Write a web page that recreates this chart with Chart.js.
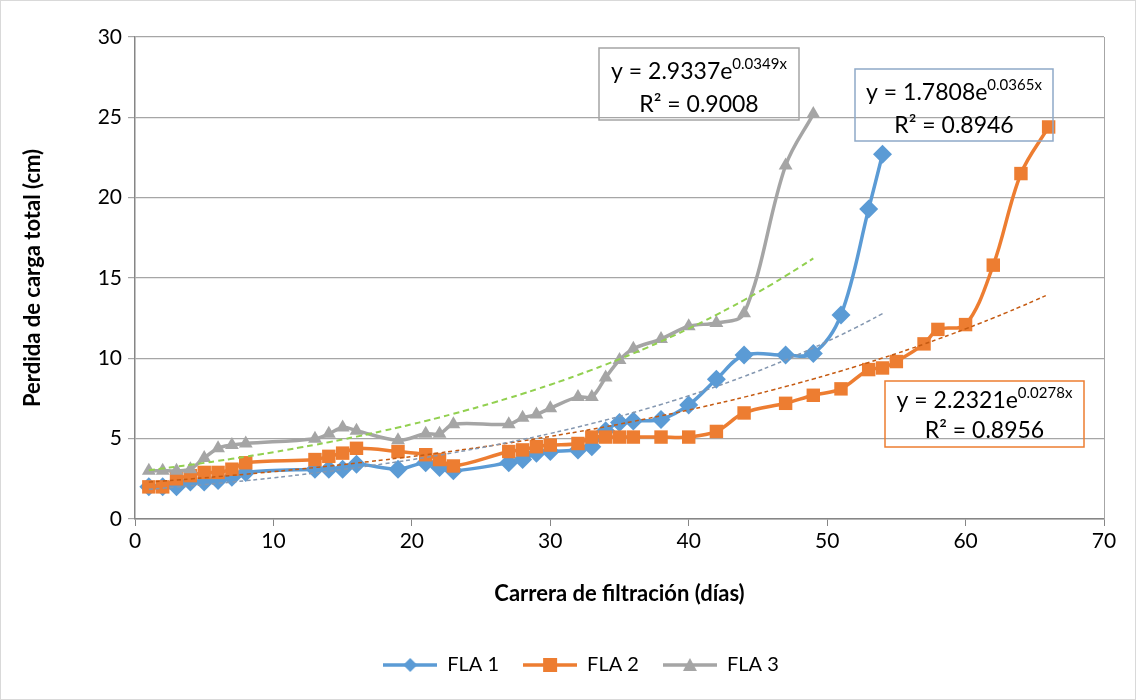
<!DOCTYPE html>
<html>
<head>
<meta charset="utf-8">
<script src="https://cdn.jsdelivr.net/npm/chart.js@4.4.1/dist/chart.umd.min.js"></script>
<style>
  html, body { margin: 0; padding: 0; background: #fff; }
  canvas { display: block; }
</style>
</head>
<body>
<canvas id="chart" width="1136" height="700"></canvas>
<script>
// measured values (days / head loss in cm)
const days1 = [1, 2, 3, 4, 5, 6, 7, 8, 13, 14, 15, 16, 19, 21, 22, 23, 27, 28, 29, 30, 32, 33, 34, 35, 36, 38, 40, 42, 44, 47, 49, 51, 53, 54];
const fla1  = [2.0, 2.0, 2.0, 2.3, 2.3, 2.4, 2.6, 2.9, 3.1, 3.1, 3.1, 3.4, 3.1, 3.5, 3.2, 3.0, 3.5, 3.7, 4.1, 4.2, 4.3, 4.5, 5.5, 6.0, 6.1, 6.2, 7.1, 8.7, 10.2, 10.2, 10.3, 12.7, 19.3, 22.7];

const days2 = [1, 2, 3, 4, 5, 6, 7, 8, 13, 14, 15, 16, 19, 21, 22, 23, 27, 28, 29, 30, 32, 33, 34, 35, 36, 38, 40, 42, 44, 47, 49, 51, 53, 54, 55, 57, 58, 60, 62, 64, 66];
const fla2  = [2.0, 2.0, 2.5, 2.7, 2.9, 2.9, 3.1, 3.5, 3.7, 3.9, 4.1, 4.4, 4.2, 4.0, 3.7, 3.3, 4.2, 4.3, 4.5, 4.6, 4.7, 5.1, 5.1, 5.1, 5.1, 5.1, 5.1, 5.45, 6.6, 7.2, 7.7, 8.1, 9.3, 9.4, 9.8, 10.9, 11.8, 12.1, 15.8, 21.5, 24.4];

const days3 = [1, 2, 3, 4, 5, 6, 7, 8, 13, 14, 15, 16, 19, 21, 22, 23, 27, 28, 29, 30, 32, 33, 34, 35, 36, 38, 40, 42, 44, 47, 49];
const fla3  = [3.0, 3.0, 3.0, 3.1, 3.8, 4.4, 4.6, 4.7, 5.0, 5.3, 5.7, 5.5, 4.9, 5.3, 5.3, 5.9, 5.9, 6.3, 6.5, 6.9, 7.6, 7.6, 8.8, 9.9, 10.6, 11.2, 12.0, 12.2, 12.8, 22.0, 25.2];

const seriesNames = ['FLA 1', 'FLA 2', 'FLA 3'];

// exponential trend lines y = a * e^(b x), as printed on the chart
const trendA   = [1.7808, 2.2321, 2.9337];
const trendB   = [0.0365, 0.0278, 0.0349];
const trendEnd = [54, 66, 49];
const trendEq  = [['y = 1.7808e', '0.0365x', 'R² = 0.8946'],
                  ['y = 2.2321e', '0.0278x', 'R² = 0.8956'],
                  ['y = 2.9337e', '0.0349x', 'R² = 0.9008']];

const xTicks = [0, 10, 20, 30, 40, 50, 60, 70];
const yTicks = [0, 5, 10, 15, 20, 25, 30];

const colors = ['#5b9bd5', '#ed7d31', '#a5a5a5'];
const trendColors = ['#8497b0', '#c55a11', '#92d050'];
const boxColors = ['#8ea9c8', '#ed7d31', '#a5a5a5'];
const markers = ['rectRot', 'rect', 'triangle'];
const FONT = 'Lato, "Noto Sans", sans-serif';

const pts = (xs, ys) => xs.map((x, i) => ({ x: x, y: ys[i] }));
function trendPts(i) {
  const out = [];
  for (let x = 1; x <= trendEnd[i]; x++) out.push({ x: x, y: trendA[i] * Math.exp(trendB[i] * x) });
  return out;
}

const dataSets = [[days1, fla1], [days2, fla2], [days3, fla3]];

const datasets = [];
dataSets.forEach((d, i) => {
  datasets.push({
    label: seriesNames[i],
    data: pts(d[0], d[1]),
    borderColor: colors[i],
    backgroundColor: colors[i],
    borderWidth: 3.5,
    pointStyle: markers[i],
    pointRadius: i === 2 ? 8 : 9.5,
    pointBorderWidth: 0,
    tension: 0.35,
    order: 3 - i
  });
});
trendColors.forEach((c, i) => {
  datasets.push({
    label: 'trend' + (i + 1),
    data: trendPts(i),
    borderColor: c,
    borderWidth: i === 2 ? 2 : 1.5,
    borderDash: i === 2 ? [6, 4] : [4, 3],
    pointRadius: 0,
    tension: 0.4,
    order: 0
  });
});

function legendIcon(i) {
  const cv = document.createElement('canvas');
  cv.width = 54; cv.height = 18;
  const g = cv.getContext('2d');
  g.strokeStyle = colors[i]; g.lineWidth = 3.5;
  g.beginPath(); g.moveTo(0, 9); g.lineTo(54, 9); g.stroke();
  g.fillStyle = colors[i];
  g.beginPath();
  if (i === 0) { g.moveTo(27, 2); g.lineTo(34, 9); g.lineTo(27, 16); g.lineTo(20, 9); }
  else if (i === 1) { g.rect(20, 2, 14, 14); }
  else { g.moveTo(27, 2); g.lineTo(34, 15); g.lineTo(20, 15); }
  g.closePath(); g.fill();
  return cv;
}
const icons = [0, 1, 2].map(legendIcon);

// trend equation boxes (left, top, width, height, baseline1, baseline2)
const eqBoxes = [
  { k: 2, l: 599, t: 48, w: 200, h: 72, b1: 79, b2: 112 },
  { k: 0, l: 855, t: 69, w: 198, h: 72, b1: 100, b2: 133 },
  { k: 1, l: 885, t: 381, w: 199, h: 66, b1: 408, b2: 438 }
];

const framePlugin = {
  id: 'frame',
  beforeDraw(chart) {
    const ctx = chart.ctx;
    ctx.save();
    ctx.fillStyle = '#fff';
    ctx.fillRect(0, 0, chart.width, chart.height);
    ctx.restore();
  },
  afterLayout(chart) {
    // legend is centred on the whole picture, not on the plot
    chart.legend.left += 29;
    chart.legend.right += 29;
  },
  afterDraw(chart) {
    const ctx = chart.ctx, a = chart.chartArea;
    ctx.save();
    ctx.strokeStyle = '#a6a6a6'; ctx.lineWidth = 1;
    ctx.beginPath(); ctx.moveTo(Math.round(a.right) + 0.5, a.top); ctx.lineTo(Math.round(a.right) + 0.5, a.bottom); ctx.stroke();
    ctx.strokeStyle = '#d9d9d9';
    ctx.strokeRect(0.5, 0.5, chart.width - 1, chart.height - 1);
    eqBoxes.forEach(b => {
      const e = trendEq[b.k];
      ctx.strokeStyle = boxColors[b.k];
      ctx.lineWidth = 1.5;
      ctx.strokeRect(b.l, b.t, b.w, b.h);
      ctx.fillStyle = '#000';
      ctx.textBaseline = 'alphabetic';
      ctx.textAlign = 'left';
      ctx.font = '23px ' + FONT;
      const w1 = ctx.measureText(e[0]).width;
      ctx.font = '15px ' + FONT;
      const w2 = ctx.measureText(e[1]).width;
      const x0 = b.l + (b.w - w1 - w2) / 2;
      ctx.font = '23px ' + FONT;
      ctx.fillText(e[0], x0, b.b1);
      ctx.font = '15px ' + FONT;
      ctx.fillText(e[1], x0 + w1, b.b1 - 10);
      ctx.font = '23px ' + FONT;
      ctx.textAlign = 'center';
      ctx.fillText(e[2], b.l + b.w / 2, b.b2);
    });
    ctx.restore();
  }
};

new Chart(document.getElementById('chart'), {
  type: 'line',
  data: { datasets: datasets },
  plugins: [framePlugin],
  options: {
    responsive: false,
    animation: false,
    layout: { padding: { top: 37, right: 32, bottom: 15, left: 0 } },
    plugins: {
      tooltip: { enabled: false },
      legend: {
        position: 'bottom',
        labels: {
          usePointStyle: true,
          pointStyleWidth: 54,
          padding: 24,
          color: '#000',
          font: { family: FONT, size: 20 },
          generateLabels: () => seriesNames.map((n, i) => ({
            text: n, datasetIndex: i, pointStyle: icons[i],
            fillStyle: colors[i], strokeStyle: colors[i], lineWidth: 0, hidden: false, fontColor: '#000'
          }))
        }
      }
    },
    scales: {
      x: {
        type: 'linear', min: 0, max: 70,
        afterBuildTicks: s => { s.ticks = xTicks.map(v => ({ value: v })); },
        afterFit: s => { s.height = 112; },
        border: { color: '#868686', width: 1.5 },
        grid: { drawOnChartArea: false, drawTicks: true, tickLength: 7, color: '#868686' },
        ticks: { color: '#000', font: { family: FONT, size: 21 }, padding: 3, maxRotation: 0 },
        title: { display: true, text: 'Carrera de filtración (días)', color: '#000',
                 font: { family: FONT, size: 22, weight: 'bold' }, padding: { top: 4, bottom: 24 } }
      },
      y: {
        type: 'linear', min: 0, max: 30,
        afterBuildTicks: s => { s.ticks = yTicks.map(v => ({ value: v })); },
        afterFit: s => { s.width = 135; },
        border: { color: '#868686', width: 1.5 },
        grid: { color: '#a6a6a6', lineWidth: 1.2, tickLength: 7 },
        ticks: { color: '#000', font: { family: FONT, size: 21 }, padding: 6 },
        title: { display: true, text: 'Perdida de carga total (cm)', color: '#000',
                 font: { family: FONT, size: 22, weight: 'bold' }, padding: { top: 20, bottom: 0 } }
      }
    }
  }
});
</script>
</body>
</html>
